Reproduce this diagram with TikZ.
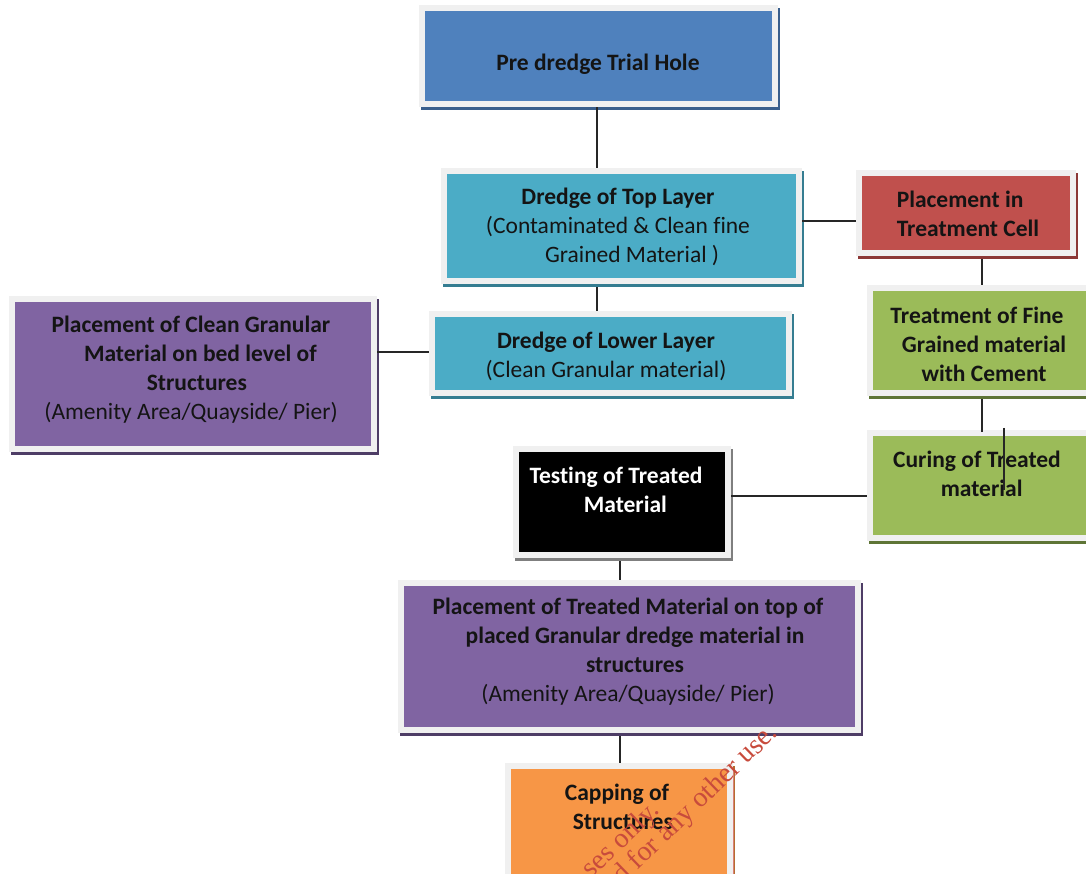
\documentclass[tikz,border=0pt]{standalone}
\usepackage{fontspec}
\setmainfont{Carlito}[Ligatures=NoCommon]
\newfontfamily\wmfont{Liberation Serif}
\usetikzlibrary{shadows,fit}
\definecolor{framegray}{HTML}{F0F0F0}
\definecolor{cblue}{HTML}{4F81BD}
\definecolor{cblueS}{HTML}{3A5F8C}
\definecolor{caqua}{HTML}{4BACC6}
\definecolor{caquaS}{HTML}{357D91}
\definecolor{cred}{HTML}{C0504D}
\definecolor{credS}{HTML}{8C3836}
\definecolor{cgreen}{HTML}{9BBB59}
\definecolor{cgreenS}{HTML}{5E7536}
\definecolor{cpurple}{HTML}{8064A2}
\definecolor{cpurpleS}{HTML}{4E3D66}
\definecolor{corange}{HTML}{F79646}
\definecolor{corangeS}{HTML}{B66D31}
\definecolor{cblackS}{HTML}{7F7F7F}
\definecolor{txt}{HTML}{141414}
\definecolor{wmred}{HTML}{C84B3C}
\newcommand\flowbox[5]{%
  \node[framebox, fit={#2 #3}, drop shadow={shadow xshift=2pt, shadow yshift=-3pt, opacity=1, fill=#5}] (#1) {};
  \fill[#4] ([shift={(6,6)}]#1.north west) rectangle ([shift={(-6,-6)}]#1.south east);}
\tikzset{
  framebox/.style={fill=framegray, draw=none, inner sep=0pt},
  label text/.style={text=txt, align=center, inner sep=0pt, font=\fontsize{23.5}{29}\selectfont},
  conn/.style={draw=black!85, line width=1.1pt},
  wm/.style={text=wmred, inner sep=0pt, font=\wmfont\fontsize{28}{28}\selectfont}
}
\begin{document}
\begin{tikzpicture}[x=1pt,y=-1pt]
\useasboundingbox (0,0) rectangle (1086,874);
\clip (0,0) rectangle (1086,874);
\fill[white] (0,0) rectangle (1086,874);

% boxes
\flowbox{pre}{(419,5)}{(778,107)}{cblue}{cblueS}
\flowbox{top}{(441,168)}{(802,284)}{caqua}{caquaS}
\flowbox{low}{(429,311)}{(792,396)}{caqua}{caquaS}
\flowbox{cell}{(856,170)}{(1076,256)}{cred}{credS}
\flowbox{treat}{(867,285)}{(1096,396)}{cgreen}{cgreenS}
\flowbox{cure}{(867,430)}{(1096,541)}{cgreen}{cgreenS}
\flowbox{clean}{(9,296)}{(377,452)}{cpurple}{cpurpleS}
\flowbox{test}{(513,446)}{(731,558)}{black}{cblackS}
\flowbox{treated}{(398,580)}{(861,733)}{cpurple}{cpurpleS}
\flowbox{cap}{(505,763)}{(733,880)}{corange}{corangeS}

% texts
\node[label text] (tpre) at (598,64) {\bfseries Pre dredge Trial Hole};
\node[label text] (ttop) at (618,227) {\bfseries Dredge of Top Layer\\(Contaminated \& Clean fine\\\hspace*{1.2em}Grained Material )};
\node[label text] (tlow) at (606,356) {\bfseries Dredge of Lower Layer\\(Clean Granular material)};
\node[label text, align=left] (tcell) at (968,214) {\bfseries Placement in\\\bfseries Treatment Cell};
\node[label text] (ttreat) at (977,344) {\bfseries Treatment of Fine\\\bfseries \hspace*{0.6em}Grained material\\\bfseries \hspace*{0.6em}with Cement};
\node[label text] (tcure) at (977,474) {\bfseries Curing of Treated\\\bfseries \hspace*{0.4em}material};
\node[label text] (tclean) at (191,370) {\bfseries Placement of Clean Granular\\\bfseries \hspace*{0.8em}Material on bed level of\\\bfseries \hspace*{0.5em}Structures\\(Amenity Area/Quayside/ Pier)};
\node[label text, text=white] (ttest) at (616,490) {\bfseries Testing of Treated\\\bfseries \hspace*{0.8em}Material};
\node[label text] (ttreated) at (628,652) {\bfseries Placement of Treated Material on top of\\\bfseries \hspace*{0.6em}placed Granular dredge material in\\\bfseries \hspace*{0.6em}structures\\(Amenity Area/Quayside/ Pier)};
\node[label text] (tcap) at (617,807) {\bfseries Capping of\\\bfseries \hspace*{0.5em}Structures};

% connectors
\coordinate (vx) at (597,0);
\coordinate (gx) at (982,0);
\coordinate (bx) at (620,0);
\coordinate (stray) at (1004,490);
\draw[conn] (pre.south -| vx) -- (top.north -| vx);
\draw[conn] ([yshift=-3pt]top.south -| vx) -- (low.north -| vx);
\draw[conn] ([yshift=5pt]top.east) -- ([yshift=5pt]top.east -| cell.west);
\draw[conn] ([yshift=-3pt]cell.south -| gx) -- (treat.north -| gx);
\draw[conn] ([yshift=-3pt]treat.south -| gx) -- ([yshift=-2pt]cure.north -| gx);
\draw[conn] ([yshift=2pt]cure.north -| stray) -- (stray);
\draw[conn] ([yshift=1.5pt]low.west) -- ([yshift=1.5pt]low.west -| clean.east);
\draw[conn] ([yshift=-10.5pt]cure.west) -- ([yshift=-10.5pt]cure.west -| test.east);
\draw[conn] ([yshift=-3pt]test.south -| bx) -- (treated.north -| bx);
\draw[conn] ([yshift=-3pt]treated.south -| bx) -- (cap.north -| bx);

% watermark fragments
\draw[wmred!70, line width=0.8pt] ([yshift=-8pt]cap.north east) -- (cap.south east);
\node[wm, rotate=44, anchor=base east] (wm1) at (661,812) {ses only.};
\node[wm, rotate=44, anchor=base east] (wm2) at (779,734) {d for any other use.};
\end{tikzpicture}
\end{document}
